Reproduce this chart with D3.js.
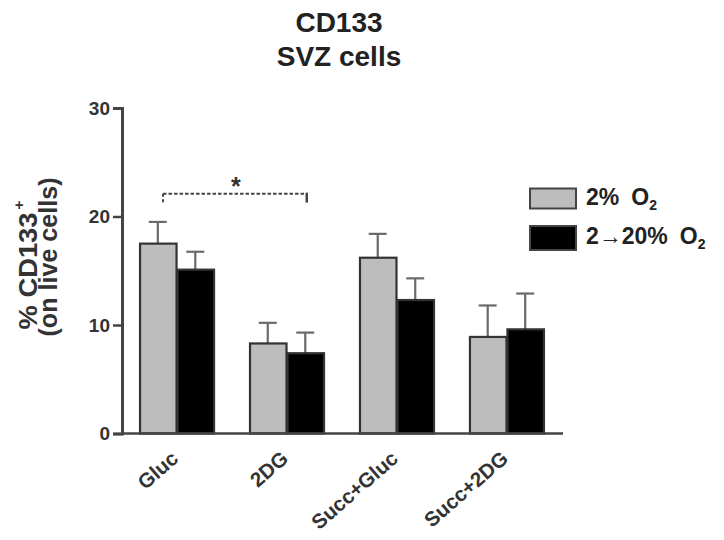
<!DOCTYPE html>
<html>
<head>
<meta charset="utf-8">
<script src="https://cdn.jsdelivr.net/npm/d3@7"></script>
<style>
  html, body { margin: 0; padding: 0; background: #fff; }
  svg { display: block; }
  text { font-family: "Liberation Sans", Arial, sans-serif; }
</style>
</head>
<body>
<svg id="chart" width="724" height="540"></svg>
<script>
const categories = ["Gluc", "2DG", "Succ+Gluc", "Succ+2DG"];
const seriesNames = ["2% O2", "2\u219220% O2"];
const meanLow = [17.5, 8.3, 16.2, 8.9];      // 2% O2
const errLow  = [19.5, 10.2, 18.4, 11.8];    // mean + SEM
const meanHigh = [15.1, 7.4, 12.3, 9.6];     // 2->20% O2
const errHigh  = [16.75, 9.3, 14.3, 12.9];
const yTicks = [0, 10, 20, 30];
const titleLines = ["CD133", "SVZ cells"];
const sigBracket = { from: "Gluc", to: "2DG", value: 22.1, drop: 1.0, label: "*" };

const svg = d3.select("#chart");
const x = d3.scaleBand().domain(categories).range([122, 561]).paddingInner(0.318).paddingOuter(0.155);
const sub = d3.scaleBand().domain([0, 1]).range([0, x.bandwidth()]);
const y = d3.scaleLinear().domain([0, 30]).range([433.5, 108]);

const fills = ["#bdbdbd", "#000000"];
const data = [];
categories.forEach((c, i) => {
  data.push({ c, s: 0, v: meanLow[i], e: errLow[i] });
  data.push({ c, s: 1, v: meanHigh[i], e: errHigh[i] });
});

// title
svg.selectAll("text.title").data(titleLines).join("text")
  .attr("class", "title")
  .attr("x", 339).attr("y", (d, i) => 31.5 + i * 34.5)
  .attr("text-anchor", "middle")
  .attr("font-size", 28).attr("font-weight", "bold").attr("fill", "#222")
  .text(d => d);

// error bars (upper only)
const eb = svg.append("g").attr("stroke", "#6a6a6a").attr("stroke-width", 2.2);
eb.selectAll("line.v").data(data).join("line")
  .attr("x1", d => x(d.c) + sub(d.s) + sub.bandwidth() / 2)
  .attr("x2", d => x(d.c) + sub(d.s) + sub.bandwidth() / 2)
  .attr("y1", d => y(d.v)).attr("y2", d => y(d.e));
eb.selectAll("line.h").data(data).join("line")
  .attr("x1", d => x(d.c) + sub(d.s) + sub.bandwidth() / 2 - 9)
  .attr("x2", d => x(d.c) + sub(d.s) + sub.bandwidth() / 2 + 9)
  .attr("y1", d => y(d.e)).attr("y2", d => y(d.e));

// bars
svg.append("g").selectAll("rect").data(data).join("rect")
  .attr("x", d => x(d.c) + sub(d.s) + 1)
  .attr("width", sub.bandwidth() - 1)
  .attr("y", d => y(d.v))
  .attr("height", d => y(0) - y(d.v))
  .attr("fill", d => fills[d.s])
  .attr("stroke", "#333").attr("stroke-width", 2.2);

// y axis
const yAxis = d3.axisLeft(y).tickValues(yTicks).tickSize(9).tickPadding(3).tickFormat(d3.format("d"));
const gy = svg.append("g").attr("transform", "translate(122,0)").call(yAxis);
gy.select(".domain").attr("stroke", "#444").attr("stroke-width", 3);
gy.selectAll(".tick line").attr("stroke", "#444").attr("stroke-width", 2.5);
gy.selectAll(".tick text").attr("font-size", 19).attr("font-weight", "bold").attr("fill", "#333")
  .attr("font-family", "Liberation Sans, Arial, sans-serif");

// x axis baseline
svg.append("line").attr("x1", 122).attr("x2", 563).attr("y1", y(0)).attr("y2", y(0))
  .attr("stroke", "#444").attr("stroke-width", 2.5);

// x labels
svg.append("g").selectAll("text").data(categories).join("text")
  .attr("transform", d => `translate(${x(d) + x.bandwidth() / 2 + 3},${y(0) + 27}) rotate(-41)`)
  .attr("text-anchor", "end")
  .attr("font-size", 20.5).attr("font-weight", "bold").attr("fill", "#333")
  .text(d => d);

// y label
svg.append("text")
  .attr("transform", `translate(37,271) rotate(-90)`)
  .attr("text-anchor", "middle").attr("font-size", 25).attr("font-weight", "bold").attr("fill", "#333")
  .attr("textLength", 117).attr("lengthAdjust", "spacingAndGlyphs")
  .text("% CD133");
svg.append("text")
  .attr("transform", `translate(24,205) rotate(-90)`)
  .attr("text-anchor", "middle").attr("font-size", 15).attr("font-weight", "bold").attr("fill", "#333")
  .text("+");
svg.append("text")
  .attr("transform", `translate(57,257) rotate(-90)`)
  .attr("text-anchor", "middle").attr("font-size", 25).attr("font-weight", "bold").attr("fill", "#333")
  .attr("textLength", 159).attr("lengthAdjust", "spacingAndGlyphs")
  .text("(on live cells)");

// significance bracket
const bx1 = x(sigBracket.from) + x.bandwidth() * 0.32;
const bx2 = x(sigBracket.to) + x.bandwidth() * 0.77;
const by = y(sigBracket.value);
const byd = y(sigBracket.value - sigBracket.drop);
const br = svg.append("g").attr("stroke", "#444").attr("stroke-width", 2).attr("fill", "none");
br.append("line").attr("x1", bx1).attr("x2", bx2).attr("y1", by).attr("y2", by).attr("stroke-dasharray", "3.5,2");
br.append("line").attr("x1", bx1).attr("x2", bx1).attr("y1", by).attr("y2", byd).attr("stroke-dasharray", "3,2.5");
br.append("line").attr("x1", bx2).attr("x2", bx2).attr("y1", by - 1).attr("y2", byd - 2).attr("stroke-width", 2.5);
svg.append("text").attr("x", (bx1 + bx2) / 2 + 1).attr("y", by + 1)
  .attr("text-anchor", "middle").attr("font-size", 25).attr("font-weight", "bold").attr("fill", "#333")
  .text(sigBracket.label);

// legend
const lg = svg.append("g");
seriesNames.forEach((name, i) => {
  const ly = 188.5 + i * 37.5;
  lg.append("rect").attr("x", 530).attr("y", ly).attr("width", 46).attr("height", 20 + i * 4)
    .attr("fill", fills[i]).attr("stroke", "#444").attr("stroke-width", 2);
  const t = lg.append("text").attr("x", 586).attr("y", ly + 16.5 + i * 1.5)
    .attr("font-size", 23).attr("fill", "#222").attr("font-weight", "bold");
  const parts = name.replace(/2$/, "").split(" ");
  t.append("tspan").text(parts[0]);
  t.append("tspan").attr("dx", 12).text(parts[1]);
  t.append("tspan").attr("font-size", 14).attr("dy", 5).text("2");
});
</script>
</body>
</html>
